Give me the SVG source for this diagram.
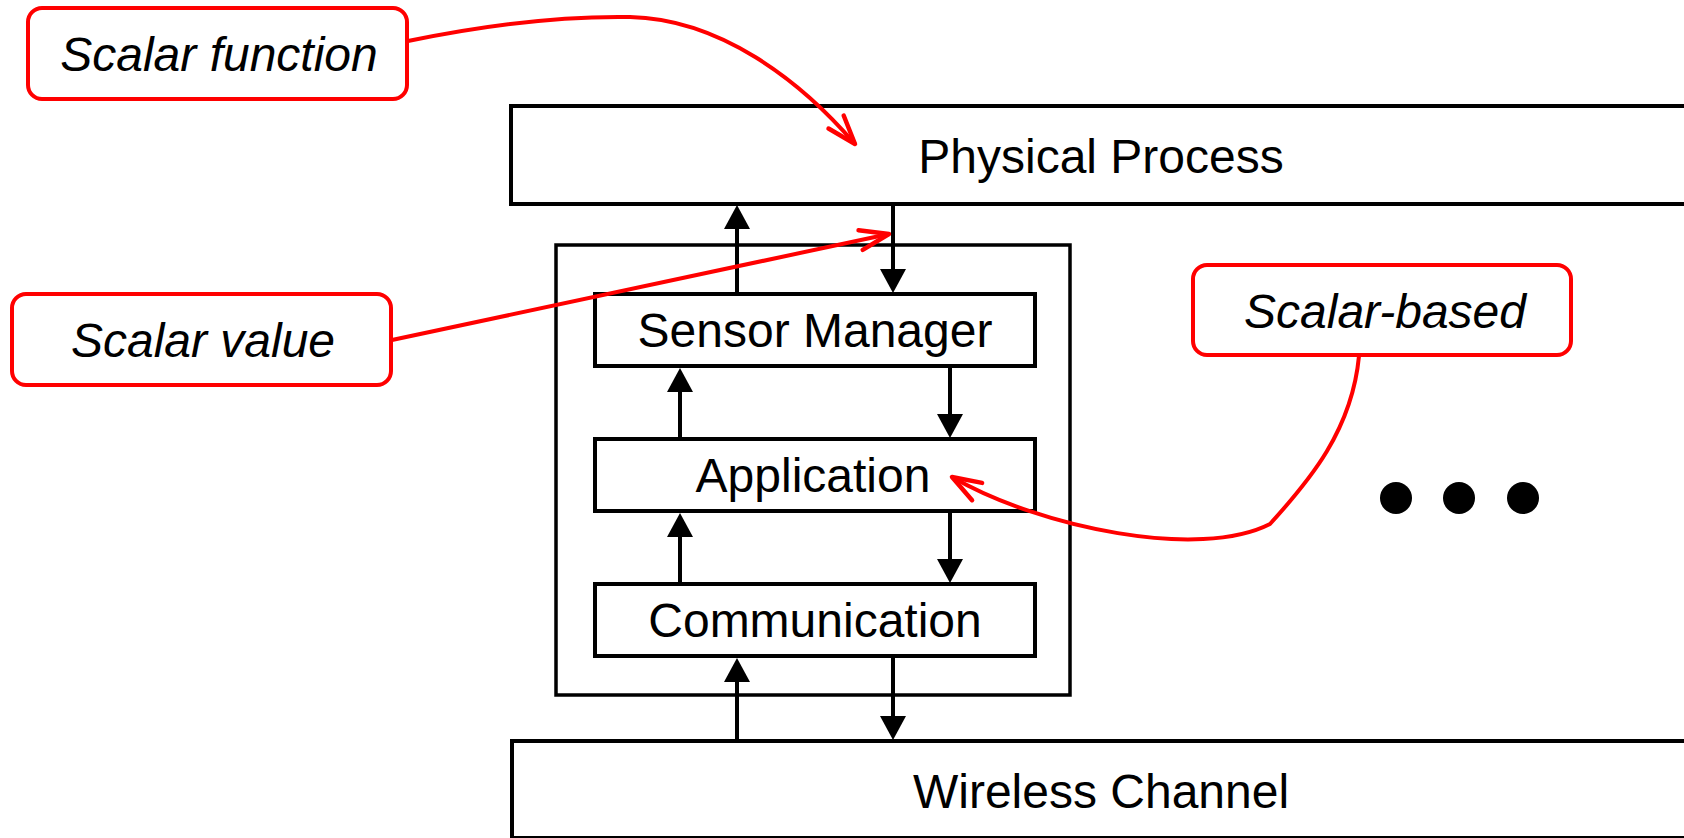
<svg xmlns="http://www.w3.org/2000/svg" width="1684" height="838" viewBox="0 0 1684 838">
<style>
.box{fill:#fff;stroke:#000;stroke-width:4}
.cont{fill:none;stroke:#000;stroke-width:3.5}
.lbl{font-family:"Liberation Sans",Arial,sans-serif;font-size:48px;fill:#000;text-anchor:middle}
.note{fill:#fff;stroke:#ff0000;stroke-width:4}
.nlbl{font-family:"Liberation Sans",Arial,sans-serif;font-size:48px;font-style:italic;fill:#000;text-anchor:middle}
.conn{stroke:#000;stroke-width:4;fill:none;marker-end:url(#ah)}
.red{stroke:#ff0000;stroke-width:4;fill:none;marker-end:url(#rah)}
</style>
<defs>
<marker id="ah" markerUnits="userSpaceOnUse" markerWidth="24" markerHeight="26" refX="16" refY="13" orient="auto" overflow="visible">
<path d="M0,0 L24,13 L0,26 z" fill="#000"/>
</marker>
<marker id="rah" markerUnits="userSpaceOnUse" markerWidth="40" markerHeight="40" refX="0" refY="0" orient="auto" overflow="visible">
<path d="M-29,-10 L0,0 L-29,10" fill="none" stroke="#ff0000" stroke-width="4.5" stroke-linecap="round" stroke-linejoin="round"/>
</marker>
</defs>
<rect width="1684" height="838" fill="#fff"/>

<g id="physical-process">
<rect class="box" x="511" y="106" width="1200" height="98"/>
<text class="lbl" x="1101" y="173">Physical Process</text>
</g>
<g id="wireless-channel">
<rect class="box" x="512" y="741" width="1200" height="97"/>
<text class="lbl" x="1101" y="808">Wireless Channel</text>
</g>
<g id="sensor-node">
<rect class="cont" x="556" y="245" width="514" height="450"/>
</g>
<g id="sensor-manager">
<rect class="box" x="595" y="294" width="440" height="72"/>
<text class="lbl" x="815" y="347">Sensor Manager</text>
</g>
<g id="application">
<rect class="box" x="595" y="439" width="440" height="72"/>
<text class="lbl" x="813" y="492">Application</text>
</g>
<g id="communication">
<rect class="box" x="595" y="584" width="440" height="72"/>
<text class="lbl" x="815" y="637">Communication</text>
</g>

<g id="connectors">
<line class="conn" x1="737" y1="292" x2="737" y2="213"/>
<line class="conn" x1="893" y1="206" x2="893" y2="285"/>
<line class="conn" x1="680" y1="437" x2="680" y2="376"/>
<line class="conn" x1="950" y1="368" x2="950" y2="430"/>
<line class="conn" x1="680" y1="582" x2="680" y2="521"/>
<line class="conn" x1="950" y1="513" x2="950" y2="575"/>
<line class="conn" x1="737" y1="739" x2="737" y2="666"/>
<line class="conn" x1="893" y1="658" x2="893" y2="732"/>
<path class="red" d="M408,41 C500,22 570,16 630,17 C720,19 800,80 855,144"/>
<path class="red" d="M392,340 L889,234"/>
<path class="red" d="M1359,356 C1352,430 1310,480 1270,524 C1200,560 1040,528 952,477"/>
</g>

<g id="note-scalar-function">
<rect class="note" x="28" y="8" width="379" height="91" rx="14"/>
<text class="nlbl" x="219" y="71">Scalar function</text>
</g>
<g id="note-scalar-value">
<rect class="note" x="12" y="294" width="379" height="91" rx="14"/>
<text class="nlbl" x="203" y="357">Scalar value</text>
</g>
<g id="note-scalar-based">
<rect class="note" x="1193" y="265" width="378" height="90" rx="14"/>
<text class="nlbl" x="1385" y="328">Scalar-based</text>
</g>

<g id="ellipsis">
<circle cx="1396" cy="498" r="16" fill="#000"/>
<circle cx="1459" cy="498" r="16" fill="#000"/>
<circle cx="1523" cy="498" r="16" fill="#000"/>
</g>
</svg>
